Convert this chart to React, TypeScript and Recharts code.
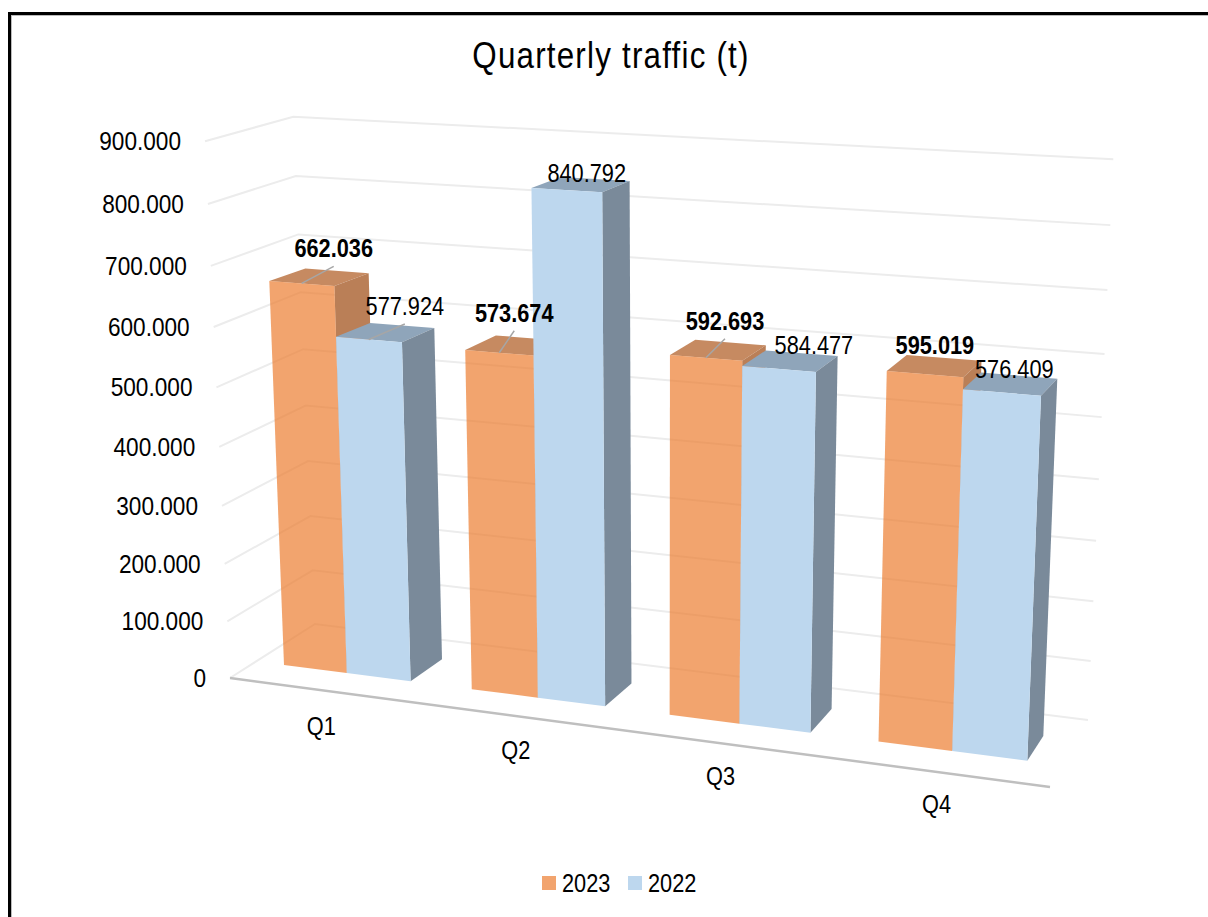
import { BarChart, Bar, XAxis, YAxis, CartesianGrid, LabelList, Legend } from 'recharts'

const quarters = ['Q1', 'Q2', 'Q3', 'Q4']
const traffic2023 = [662036, 573674, 592693, 595019]
const traffic2022 = [577924, 840792, 584477, 576409]
const yTicks = [0, 100000, 200000, 300000, 400000, 500000, 600000, 700000, 800000, 900000]

const data = quarters.map((q, i) => ({ quarter: q, y2023: traffic2023[i], y2022: traffic2022[i] }))

const PLOT = { left: 100, top: 100, width: 1000, height: 700 }
const Y_MAX = 900000
const SQUISH = 0.87

type Pt = [number, number]
type Pair = [number, number, number, number]

// solves the 4 point homography, u/v are 0..1 positions in the flat plot
const fitPlane = (pairs: Pair[]) => {
  const m: number[][] = []
  pairs.forEach(([u, v, px, py]) => {
    m.push([u, v, 1, 0, 0, 0, -u * px, -v * px, px])
    m.push([0, 0, 0, u, v, 1, -u * py, -v * py, py])
  })
  for (let c = 0; c < 8; c++) {
    let best = c
    for (let r = c + 1; r < 8; r++) if (Math.abs(m[r][c]) > Math.abs(m[best][c])) best = r
    const tmp = m[c]
    m[c] = m[best]
    m[best] = tmp
    for (let r = 0; r < 8; r++) {
      if (r === c) continue
      const f = m[r][c] / m[c][c]
      for (let k = c; k < 9; k++) m[r][k] -= f * m[c][k]
    }
  }
  const h = m.map((row, i) => row[8] / row[i])
  return (u: number, v: number): Pt => {
    const w = h[6] * u + h[7] * v + 1
    return [(h[0] * u + h[1] * v + h[2]) / w, (h[3] * u + h[4] * v + h[5]) / w]
  }
}

const frontPlane = fitPlane([
  [0.04, 0, 284, 665],
  [0.96, 0, 1027.3, 760.7],
  [0.04, 662036 / Y_MAX, 269.3, 281],
  [0.96, 576409 / Y_MAX, 1041, 395.7],
])
const backPlane = fitPlane([
  [0.21, 0, 442, 659.3],
  [0.96, 0, 1043.3, 736],
  [0.21, 577924 / Y_MAX, 434.3, 328],
  [0.96, 576409 / Y_MAX, 1057.3, 378.7],
])
const wallPlane = fitPlane([
  [0, 0, 315, 624],
  [1, 0, 1088, 720],
  [0, 1, 293.3, 116.7],
  [1, 1, 1113.3, 159.3],
])

// front edge of the left side wall, where the y labels sit
const leftEdge = (v: number): Pt => {
  const c = -0.055
  const w = 1 + c * v
  return [(230 + (205 * (1 + c) - 230) * v) / w, (678 + (141.3 * (1 + c) - 678) * v) / w]
}
const floorLine: Pt[] = [[230, 678], [1050, 787]]

const toU = (x: number) => (x - PLOT.left) / PLOT.width
const toV = (y: number) => (PLOT.top + PLOT.height - y) / PLOT.height
const poly = (pts: Pt[]) => 'M' + pts.map((p) => `${p[0]},${p[1]}`).join('L') + 'Z'

const fmt = (n: number) => String(n).replace(/\B(?=(\d{3})+(?!\d))/g, '.')

const Squished = ({ x, y, anchor = 'middle', bold = false, size = 25, children }: any) => (
  <text
    transform={`translate(${x},${y}) scale(${SQUISH},1)`}
    textAnchor={anchor}
    dy="0.35em"
    fontFamily="'Liberation Sans', Arial, sans-serif"
    fontSize={size}
    fontWeight={bold ? 700 : 400}
    fill="#000"
  >
    {children}
  </text>
)

const box3d = (colors: { top: string; side: string; opacity: number }) => (props: any) => {
  const { x, y, width, height, fill } = props
  const u0 = toU(x)
  const u1 = toU(x + width)
  const v1 = toV(y)
  const v0 = toV(y + height)
  const top = [frontPlane(u0, v1), frontPlane(u1, v1), backPlane(u1, v1), backPlane(u0, v1)] as Pt[]
  const side = [frontPlane(u1, v1), backPlane(u1, v1), backPlane(u1, v0), frontPlane(u1, v0)] as Pt[]
  const front = [frontPlane(u0, v1), frontPlane(u1, v1), frontPlane(u1, v0), frontPlane(u0, v0)] as Pt[]
  return (
    <g>
      <path d={poly(top)} fill={colors.top} />
      <path d={poly(side)} fill={colors.side} />
      <path d={poly(front)} fill={fill} fillOpacity={colors.opacity} />
    </g>
  )
}

// label shift from the middle of the front top edge, one per quarter
const nudge2023: Pt[] = [[32, -35], [15, -40], [19, -37], [10, -29]]
const nudge2022: Pt[] = [[36, -33.5], [20, -17], [35, -24], [12.5, -23]]
const leader2023 = [true, true, true, false]
const leader2022 = [true, false, false, false]

const valueLabel = (nudge: Pt[], leader: boolean[], bold: boolean) => (props: any) => {
  const { x, y, width, value, index } = props
  const [px, py] = frontPlane(toU(x + width / 2), toV(y))
  const lx = px + nudge[index][0]
  const ly = py + nudge[index][1]
  return (
    <g>
      {leader[index] && <line x1={px} y1={py} x2={lx} y2={ly + 18} stroke="#a6a6a6" strokeWidth={1.5} />}
      <Squished x={lx} y={ly} bold={bold}>{fmt(value)}</Squished>
    </g>
  )
}

const GridLine = (props: any) => {
  const v = toV(props.y1)
  const a = leftEdge(v)
  const b = wallPlane(0, v)
  const c = wallPlane(1, v)
  return (
    <g key={props.key}>
      <polyline points={`${a} ${b} ${c}`} fill="none" stroke="#ececec" strokeWidth={2} />
      {v === 0 && (
        <line x1={floorLine[0][0]} y1={floorLine[0][1]} x2={floorLine[1][0]} y2={floorLine[1][1]} stroke="#bfbfbf" strokeWidth={2.5} />
      )}
    </g>
  )
}

const YTick = (props: any) => {
  const [x, y] = leftEdge(toV(props.y))
  return <Squished x={x - 24} y={y} anchor="end" size={26}>{fmt(props.payload.value)}</Squished>
}

const XTick = (props: any) => {
  const u = toU(props.x)
  const [x, y] = frontPlane(u, 0)
  return <Squished x={x - 27 + 13 * u} y={y + 53} size={25}>{props.payload.value}</Squished>
}

const LegendRow = (props: any) => (
  <div style={{ display: 'flex', marginLeft: 542, fontFamily: "'Liberation Sans', Arial, sans-serif", fontSize: 25, lineHeight: '36px' }}>
    {(props.payload || []).map((item: any) => (
      <div key={item.value} style={{ display: 'flex', alignItems: 'center', width: 86 }}>
        <span style={{ width: 14, height: 14, background: item.color, opacity: item.value === '2023' ? 0.7 : 1, marginRight: 6 }} />
        <span style={{ display: 'inline-block', transform: `scaleX(${SQUISH})`, transformOrigin: 'left center' }}>{item.value}</span>
      </div>
    ))}
  </div>
)

export default function App() {
  return (
    <div style={{ position: 'absolute', left: 0, top: 0, width: 1208, height: 917, overflow: 'hidden', background: '#fff' }}>
      <div style={{ position: 'absolute', left: 8, top: 12, width: 1300, height: 1000, border: '3px solid #000', boxShadow: 'inset 1px 1px 0 #bbb' }} />
      <div
        style={{
          position: 'absolute',
          left: 0,
          width: 1222,
          top: 35,
          textAlign: 'center',
          fontFamily: "'Liberation Sans', Arial, sans-serif",
          fontSize: 36,
          lineHeight: '42px',
          transform: `scaleX(${SQUISH})`,
          transformOrigin: '611px 0',
          letterSpacing: 1.4,
        }}
      >
        Quarterly traffic (t)
      </div>
      <BarChart
        width={1208}
        height={917}
        data={data}
        barGap={0}
        barCategoryGap="16%"
        margin={{ top: PLOT.top, right: 108, bottom: 77, left: 0 }}
      >
        <CartesianGrid vertical={false} horizontal={GridLine} />
        <XAxis dataKey="quarter" height={40} axisLine={false} tickLine={false} tick={XTick} interval={0} />
        <YAxis width={PLOT.left} domain={[0, Y_MAX]} ticks={yTicks} axisLine={false} tickLine={false} tick={YTick} interval={0} />
        <Legend layout="vertical" align="center" verticalAlign="middle" itemSorter={null} wrapperStyle={{ left: 0, top: 865, width: 1208 }} content={LegendRow} />
        <Bar dataKey="y2023" name="2023" fill="#ED7D31" isAnimationActive={false} shape={box3d({ top: '#C68A61', side: '#BA7F57', opacity: 0.7 })}>
          <LabelList dataKey="y2023" content={valueLabel(nudge2023, leader2023, true)} />
        </Bar>
        <Bar dataKey="y2022" name="2022" fill="#BDD7EE" isAnimationActive={false} shape={box3d({ top: '#8FA5BA', side: '#7A8A9A', opacity: 1 })}>
          <LabelList dataKey="y2022" content={valueLabel(nudge2022, leader2022, false)} />
        </Bar>
      </BarChart>
    </div>
  )
}
